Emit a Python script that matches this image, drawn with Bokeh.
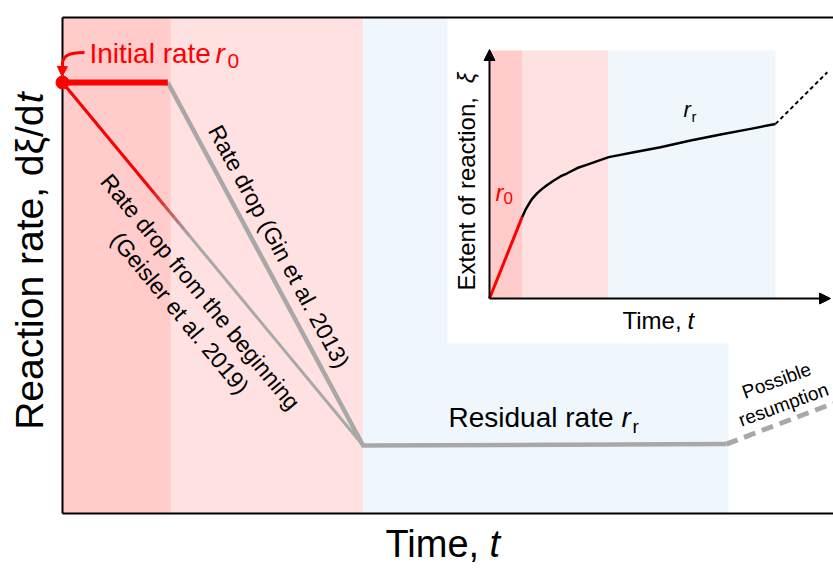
import numpy as np
from math import pi, atan2, sin, cos
from bokeh.plotting import figure
from bokeh.models import Range1d, Label, Arrow, NormalHead
from bokeh.embed import file_html
from bokeh.resources import INLINE

# ---------------- data (schematic, arbitrary units) ----------------
# main panel: time 0-100, reaction rate 0-100
phase_edges = [0.0, 14.2, 39.4, 87.3]
phase_colors = ["#FFCBCB", "#FFE1E1", "#F0F7FC"]
r0 = 86.9                 # initial rate
t_gin = 13.8              # end of constant initial-rate period
t_res = 39.4              # onset of residual rate
t_res_end = 87.0          # end of residual regime
rr_start, rr_end = 13.7, 14.0
t_resume_end, r_resume_end = 101.0, 22.2

# inset: extent of reaction vs time, arbitrary units
inset_edges = [0.0, 1.15, 4.16, 10.0]
inset_band_top = 10.0
inset_red_t = [0.0, 1.14]
inset_red_xi = [0.0, 3.28]
inset_curve_t = [1.14, 1.26, 1.38, 1.49, 1.67, 1.84, 2.02, 2.25, 2.48, 2.72,
                 3.07, 3.42, 3.77, 4.17, 5.05, 5.98, 7.03, 8.08, 9.13, 10.0]
inset_curve_xi = [3.28, 3.58, 3.82, 4.02, 4.25, 4.42, 4.58, 4.76, 4.92, 5.05,
                  5.26, 5.40, 5.54, 5.70, 5.90, 6.10, 6.37, 6.61, 6.84, 7.04]
inset_dash_t = [10.0, 11.81]
inset_dash_xi = [7.04, 9.12]

# ---------------- geometry (canvas pixels) ----------------
W, H = 833, 568
PX_X0, PX_X100 = 62, 825      # canvas x of t=0 and t=100
PX_Y0, PX_Y100 = 513, 17      # canvas y of rate=0 and rate=100
IN_OX, IN_OY = 489, 298       # inset origin
IN_SX, IN_SY = 28.6, 24.8     # inset px per unit

def X(px):
    return (px - PX_X0) / (PX_X100 - PX_X0) * 100.0

def Y(py):
    return (PX_Y0 - py) / (PX_Y0 - PX_Y100) * 100.0

FONT = "Liberation Sans"
RED = "#FF0000"
GRAY = "#A8A8A8"

p = figure(width=W, height=H, output_backend="svg", toolbar_location=None,
           x_axis_location=None, y_axis_location=None,
           x_range=Range1d(X(0), X(W)), y_range=Range1d(Y(H), Y(0)),
           min_border_left=0, min_border_right=0,
           min_border_top=0, min_border_bottom=0)
p.extra_x_ranges = {"ix": Range1d((0 - IN_OX) / IN_SX, (W - IN_OX) / IN_SX)}
p.extra_y_ranges = {"iy": Range1d((IN_OY - H) / IN_SY, (IN_OY - 0) / IN_SY)}
p.outline_line_color = None
p.background_fill_color = "white"
p.border_fill_color = "white"
p.xgrid.visible = False
p.ygrid.visible = False

# phase bands
p.quad(left=phase_edges[:-1], right=phase_edges[1:], bottom=0, top=100,
       fill_color=phase_colors, line_color=None)

# white panel for the inset
p.quad(left=[(447 - IN_OX) / IN_SX], right=[(W - IN_OX) / IN_SX + 1],
       bottom=[(IN_OY - 343) / IN_SY], top=[(IN_OY - PX_Y100) / IN_SY],
       fill_color="white", line_color=None, x_range_name="ix", y_range_name="iy")

# frame lines (left, bottom, top; right side runs off the page)
x_right = X(W) + 1
p.segment(x0=[0, 0, 0], y0=[0, 0, 100], x1=[0, x_right, x_right], y1=[100, 0, 100],
          line_color="black", line_width=2)

# --- main curves ---
# Geisler: rate drop from the beginning (red fading to gray)
p.line([0, t_res], [r0, rr_start], line_color=GRAY, line_width=3)
f = np.linspace(0.29, 0.42, 9)
seg_x, seg_y, seg_c = [[0, t_res * f[0]]], [[r0, r0 + (rr_start - r0) * f[0]]], [RED]
for i in range(len(f) - 1):
    a, b = f[i], f[i + 1]
    seg_x.append([t_res * a, t_res * b])
    seg_y.append([r0 + (rr_start - r0) * a, r0 + (rr_start - r0) * b])
    m = (i + 0.5) / (len(f) - 1)
    r = int(255 + (168 - 255) * m); g = int(0 + 168 * m)
    seg_c.append("#%02X%02X%02X" % (r, g, g))
p.multi_line(xs=seg_x, ys=seg_y, line_color=seg_c, line_width=3)

# Gin: constant rate then drop, then residual
p.line([t_gin, t_res, t_res_end], [r0, rr_start, rr_end], line_color=GRAY,
       line_width=4.5, line_join="miter")
p.line([t_res_end, t_resume_end], [rr_end, r_resume_end], line_color=GRAY,
       line_width=5, line_dash="12 7")
p.line([0, t_gin], [r0, r0], line_color=RED, line_width=6)
p.scatter([0], [r0], size=13, fill_color=RED, line_color=RED, level="overlay")

# pointer arrow to initial rate
p.bezier(x0=[X(84)], y0=[Y(52)], cx0=[X(67)], cy0=[Y(52)], cx1=[X(62)], cy1=[Y(56)],
         x1=[X(62)], y1=[Y(64)], line_color=RED, line_width=3)
p.add_layout(Arrow(end=NormalHead(size=10, fill_color=RED, line_color=RED),
                   x_start=X(62), y_start=Y(62), x_end=X(61.5), y_end=Y(76),
                   line_color=RED, line_width=3))

# --- inset ---
p.quad(left=inset_edges[:-1], right=inset_edges[1:], bottom=0, top=inset_band_top,
       fill_color=phase_colors, line_color=None, x_range_name="ix", y_range_name="iy")
p.line(inset_curve_t, inset_curve_xi, line_color="black", line_width=2.5,
       line_join="round", x_range_name="ix", y_range_name="iy")
p.line(inset_red_t, inset_red_xi, line_color=RED, line_width=3,
       x_range_name="ix", y_range_name="iy")
p.line(inset_dash_t, inset_dash_xi, line_color="black", line_width=2, line_dash="4 3",
       x_range_name="ix", y_range_name="iy")
p.add_layout(Arrow(end=NormalHead(size=11, fill_color="black", line_color="black"),
                   x_start=0, y_start=0, x_end=0, y_end=(IN_OY - 49) / IN_SY,
                   x_range_name="ix", y_range_name="iy", line_width=2))
p.add_layout(Arrow(end=NormalHead(size=11, fill_color="black", line_color="black"),
                   x_start=0, y_start=0, x_end=(830 - IN_OX) / IN_SX, y_end=0,
                   x_range_name="ix", y_range_name="iy", line_width=2))

# --- texts ---
BASE_SHIFT = 0.35   # em; alphabetic anchors render lower than the true baseline

def lab(text, px, py, size, color="black", style="normal", align="left",
        baseline="alphabetic", angle=0.0):
    if baseline == "alphabetic":
        px -= BASE_SHIFT * size * sin(angle)
        py -= BASE_SHIFT * size * cos(angle)
    p.add_layout(Label(x=X(px), y=Y(py), text=text, text_font=FONT,
                       text_font_size=f"{size}px", text_color=color,
                       text_font_style=style, text_align=align,
                       text_baseline=baseline, angle=angle))

# axis labels
lab("Reaction rate, d\u03be/d", 43, 104, 39, align="right", angle=pi / 2)
lab("t", 43, 92, 39, style="italic", align="right", angle=pi / 2)
lab("Time, ", 385, 557, 38)
lab("t", 489, 557, 38, style="italic")

# initial rate
lab("Initial rate ", 89, 63, 28, color=RED)
lab("r", 215, 63, 28, color=RED, style="italic")
lab("0", 227, 68, 21, color=RED)

# rotated annotations along the lines
ang_gin = -atan2((r0 - rr_start) * (PX_Y0 - PX_Y100) / 100,
                 (t_res - t_gin) * (PX_X100 - PX_X0) / 100)
ang_gei = -atan2((r0 - rr_start) * (PX_Y0 - PX_Y100) / 100,
                 (t_res - 0) * (PX_X100 - PX_X0) / 100)
lab("Rate drop (Gin et al. 2013)", 278.5, 246, 23, align="center",
    baseline="middle", angle=ang_gin)
lab("Rate drop from the beginning", 200, 291.5, 23, align="center",
    baseline="middle", angle=ang_gei)
lab("(Geisler et al. 2019)", 179.5, 312.5, 23, align="center",
    baseline="middle", angle=ang_gei)

# residual rate
lab("Residual rate ", 448, 427, 28)
lab("r", 621, 427, 28, style="italic")
lab("r", 632, 433, 19)

# possible resumption
ang_res = 20 * pi / 180
lab("Possible", 776, 380, 19, align="center", baseline="middle", angle=ang_res)
lab("resumption", 783, 404, 19, align="center", baseline="middle", angle=ang_res)

# inset labels
lab("Extent of reaction, ", 474, 290, 24, align="left", angle=pi / 2)
lab("\u03be", 474, 72, 24, style="italic", align="right", angle=pi / 2)
lab("Time, ", 622, 328, 24)
lab("t", 687, 328, 24, style="italic")
lab("r", 495, 200, 24, color=RED, style="italic")
lab("0", 503, 203, 17, color=RED)
lab("r", 683, 117, 22, style="italic")
lab("r", 691, 121, 15)

open("out.html", "w").write(file_html(p, INLINE))
